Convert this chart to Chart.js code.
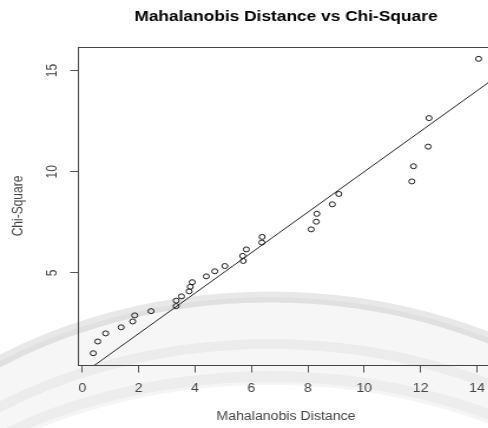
<!DOCTYPE html>
<html><head><meta charset="utf-8">
<script src="https://cdn.jsdelivr.net/npm/chart.js@4"></script>
<style>
html,body{margin:0;padding:0;overflow:hidden;background:#fff;width:488px;height:428px}
#c{display:block}
</style></head><body>
<canvas id="c" width="441" height="428" style="width:520.38px;height:428px"></canvas>
<script>
// Data
const mahalanobis = [0.39,0.55,0.83,1.38,1.79,1.86,2.44,3.33,3.33,3.52,3.79,3.83,3.90,4.40,4.70,5.06,5.71,5.69,5.82,6.37,6.38,8.12,8.30,8.32,8.87,9.10,11.69,11.75,12.27,12.30,14.06];
const chiSquare   = [1.03,1.61,2.01,2.31,2.60,2.90,3.11,3.36,3.63,3.84,4.09,4.31,4.54,4.83,5.08,5.34,5.59,5.84,6.16,6.50,6.78,7.15,7.53,7.92,8.39,8.90,9.52,10.27,11.24,12.65,15.58];
// reference line y = x
const refLineX = [-1, 17];
const refLineY = [-1, 17];
const xTicks = [0,2,4,6,8,10,12,14];
const yTicks = [5,10,15];

const FAM = '"Liberation Sans", Arial, Helvetica, sans-serif';
const S = 520.38/441; // horizontal stretch of the reference picture

const points = mahalanobis.map((x,i)=>({x, y: chiSquare[i]}));
const linePts = refLineX.map((x,i)=>({x, y: refLineY[i]}));

const overlay = {
  id:'overlay',
  beforeDraw(chart){
    const ctx = chart.ctx;
    ctx.save();
    const cx = 270/S, cy = 667;
    ctx.beginPath();
    ctx.ellipse(cx, cy, 480/S, 370, 0, 0, 2*Math.PI);
    ctx.ellipse(cx, cy, 440/S, 285, 0, 0, 2*Math.PI);
    ctx.fillStyle = 'rgba(0,0,0,0.035)';
    ctx.fill('evenodd');
    const bands = [[480,370,11,0.09],[455,323,10,0.045],[440,289,14,0.04]];
    for (const [rx,ry,lw,a] of bands){
      ctx.beginPath();
      ctx.ellipse(cx, cy, rx/S, ry, 0, 0, 2*Math.PI);
      ctx.lineWidth = lw;
      ctx.strokeStyle = 'rgba(0,0,0,'+a+')';
      ctx.stroke();
    }
    ctx.restore();
  }
};
const box = {
  id:'box',
  afterDraw(chart){
    const {ctx, chartArea:a} = chart;
    ctx.save();
    ctx.strokeStyle = '#444';
    ctx.lineWidth = 1;
    ctx.strokeRect(Math.round(a.left)+0.5, Math.round(a.top)+0.5, Math.round(a.right-a.left), Math.round(a.bottom-a.top));
    ctx.restore();
  }
};

new Chart(document.getElementById('c').getContext('2d'), {
  type:'scatter',
  data:{datasets:[
    {data:points, pointStyle:'circle', pointRadius:2.5, pointHoverRadius:2.5, borderColor:'#1a1a1a', backgroundColor:'rgba(0,0,0,0)', borderWidth:1, showLine:false},
    {type:'line', data:linePts, borderColor:'#222', borderWidth:1, pointRadius:0, fill:false, tension:0}
  ]},
  options:{
    responsive:false, animation:false, devicePixelRatio:1,
    layout:{padding:{left:0,right:22,top:0,bottom:0}},
    plugins:{
      legend:{display:false}, tooltip:{enabled:false},
      title:{display:true, fullSize:false, text:'Mahalanobis Distance vs Chi-Square', color:'#000',
        font:{family:FAM, size:14.7, weight:'bold', lineHeight:1.2}, padding:{top:8.6,bottom:20.8}}
    },
    scales:{
      x:{type:'linear', min:-0.157, max:14.607,
        afterFit(s){s.height=63;},
        afterBuildTicks(s){s.ticks = xTicks.map(v=>({value:v}));},
        grid:{drawOnChartArea:false, drawTicks:true, tickLength:7.5, color:'#555', tickColor:'#555', lineWidth:1},
        border:{display:true, color:'#444', width:1},
        ticks:{color:'#444', font:{family:FAM, size:12}, padding:8.5, minRotation:0, maxRotation:0, autoSkip:false, includeBounds:false},
        title:{display:true, text:'Mahalanobis Distance', color:'#444', font:{family:FAM, size:12, lineHeight:1.2}, padding:{top:0,bottom:4.3}}
      },
      y:{type:'linear', min:0.448, max:16.162,
        afterFit(s){s.width=66;},
        afterBuildTicks(s){s.ticks = yTicks.map(v=>({value:v}));},
        grid:{drawOnChartArea:false, drawTicks:true, tickLength:6.5, color:'#555', tickColor:'#555', lineWidth:1},
        border:{display:true, color:'#444', width:1},
        ticks:{color:'#444', font:{family:FAM, size:12}, padding:8.3, minRotation:90, maxRotation:90, crossAlign:'center', autoSkip:false, includeBounds:false},
        title:{display:true, text:'Chi-Square', color:'#444', font:{family:FAM, size:12, lineHeight:1.2}, padding:{top:8.1,bottom:0}}
      }
    }
  },
  plugins:[overlay, box]
});
</script>
</body></html>
